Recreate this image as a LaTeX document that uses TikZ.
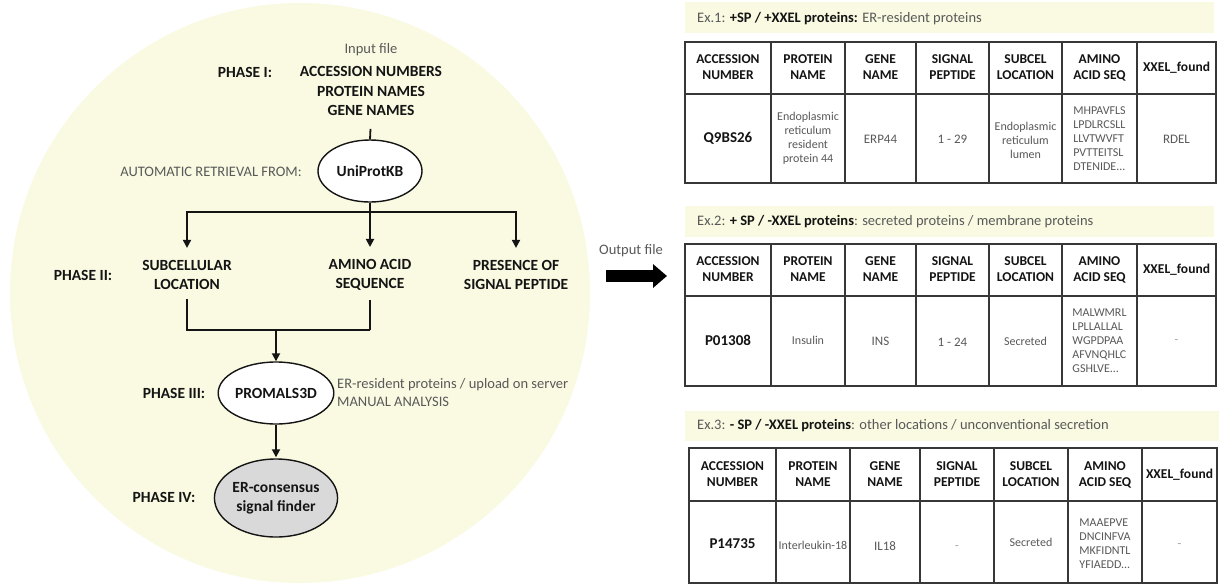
\documentclass[tikz,border=0pt]{standalone}
\usepackage{fontspec}
\setmainfont{Carlito}
\usetikzlibrary{arrows.meta,shapes.geometric}
\definecolor{bgy}{RGB}{250,250,226}
\definecolor{txtg}{RGB}{89,89,89}
\definecolor{ellg}{RGB}{217,217,217}
\definecolor{ink}{RGB}{20,20,20}
\newcommand\fs[2]{\fontsize{#1}{#2}\selectfont}
\newcommand\tgrid[6]{%
  \draw[tbl] (#1,#3) rectangle (#2,#5);
  \draw[tbl] (#1,#4) -- (#2,#4);
  \foreach \cx in {#6} {\draw[tbl] (\cx,#3) -- (\cx,#5);}
}
\newcommand\theads[9]{%
  \node[hd] (#1h1) at (#3,#2) {ACCESSION\\NUMBER};
  \node[hd] (#1h2) at (#4,#2) {PROTEIN\\NAME};
  \node[hd] (#1h3) at (#5,#2) {GENE\\NAME};
  \node[hd] (#1h4) at (#6,#2) {SIGNAL\\PEPTIDE};
  \node[hd] (#1h5) at (#7,#2) {SUBCEL\\LOCATION};
  \node[hd] (#1h6) at (#8,#2) {AMINO\\ACID SEQ};
  \node[hd] (#1h7) at (#9,#2) {XXEL\_found};
}
\begin{document}
\begin{tikzpicture}[x=1pt,y=-1pt,
  bold/.style={font=\bfseries\fs{15.5}{19.5}, text=ink, align=center, inner sep=2pt},
  grey/.style={font=\fs{14.5}{18}, text=txtg, inner sep=0pt},
  oval/.style={ellipse, draw=ink, line width=1.4pt, fill=white, inner sep=0pt,
    font=\bfseries\fs{15.5}{19}, text=ink, align=center},
  conn/.style={draw=ink, line width=1.8pt},
  arr/.style={conn, -{Triangle[length=8pt,width=8pt]}},
  tbl/.style={draw=ink!85, line width=1.6pt},
  hd/.style={font=\bfseries\fs{13.5}{16}, text=ink, align=center, inner sep=0pt},
  bd/.style={font=\fs{12}{14}, text=txtg, align=center, inner sep=0pt},
  bdm/.style={font=\fs{13}{15}, text=txtg, align=center, inner sep=0pt},
  bdl/.style={font=\fs{12}{14}, text=txtg, align=left, inner sep=0pt},
  acc/.style={font=\bfseries\fs{15}{18}, text=ink, inner sep=0pt},
  bantext/.style={font=\fs{14.5}{17}, text=txtg, anchor=west, inner sep=0pt},
]
\useasboundingbox (0,0) rectangle (1219,584);
\fill[white] (0,0) rectangle (1219,584);
% background disc
\fill[bgy] (300,293) circle[radius=290pt];

% ---- flow chart ----
\node[grey] (inp) at (371,50) {Input file};
\node[bold] (ph1) at (245,72) {PHASE I:};
\node[bold] (accn) at (371,91) {ACCESSION NUMBERS\\PROTEIN NAMES\\GENE NAMES};
\node[oval, minimum width=104pt, minimum height=62pt] (uni) at (370,171) {UniProtKB};
\node[grey] (auto) at (211,172) {AUTOMATIC RETRIEVAL FROM:};
\draw[conn, shorten <=11pt] (accn.south) -- (uni.north);

\node[bold] (ph2) at (83,275) {PHASE II:};
\node[bold] (subcel) at (187,275) {SUBCELLULAR\\LOCATION};
\node[bold] (aa) at (370,275) {AMINO ACID\\SEQUENCE};
\node[bold] (sp) at (516,275) {PRESENCE OF\\SIGNAL PEPTIDE};
\coordinate (br) at (370,212);
\draw[conn] (uni.south) -- (br);
\draw[arr, shorten >=10pt] (br) -| (subcel.north);
\draw[arr, shorten >=10pt] (br) -- (aa.north);
\draw[arr, shorten >=10pt] (br) -| (sp.north);

\node[oval, minimum width=104pt, minimum height=62pt] (prom) at (276,393) {PROMALS3D};
\node[bold] (ph3) at (174,393) {PHASE III:};
\node[grey, anchor=west, align=left] (man) at (337,393) {ER-resident proteins / upload on server\\MANUAL ANALYSIS};
\coordinate (join) at (276,330);
\draw[conn, shorten <=7pt] (subcel.south) -- (subcel.south |- join) -- (aa.south |- join);
\draw[conn, shorten <=7pt] (aa.south) -- (aa.south |- join);
\draw[arr] (join) -- (prom.north);

\node[oval, fill=ellg, minimum width=114pt, minimum height=78pt] (ercons) at (276,498) {ER-consensus\\signal finder};
\node[bold] (ph4) at (164,497) {PHASE IV:};
\draw[arr, shorten >=1pt] (prom.south) -- (ercons.north);

% ---- output arrow ----
\node[grey] (outf) at (631,251) {Output file};
\coordinate (outA) at (606,276);
\coordinate (outB) at (667,276);
\draw[draw=black, line width=12pt, -{Triangle[length=14pt,width=23pt]}] (outA) -- (outB);

% ---- banners ----
\fill[bgy] (685,2) rectangle (1214,33);
\node[bantext] (ban1) at (697,19) {Ex.1: \textcolor{ink}{\bfseries +SP / +XXEL proteins:} ER-resident proteins};
\fill[bgy] (685,206) rectangle (1214,237);
\node[bantext] (ban2) at (697,222) {Ex.2: \textcolor{ink}{\bfseries + SP / -XXEL proteins}: secreted proteins / membrane proteins};
\fill[bgy] (685,411) rectangle (1219,441);
\node[bantext] (ban3) at (697,426) {Ex.3: \textcolor{ink}{\bfseries - SP / -XXEL proteins}: other locations / unconventional secretion};

% ---- table 1 ----
\tgrid{685}{1216}{42}{94}{183}{771,845,916,989,1062,1137}
\theads{ta}{67.5}{728}{808}{880.5}{952.5}{1025.5}{1099.5}{1176.5}
\node[acc] (ta1) at (728,138) {Q9BS26};
\node[bd] (ta2) at (808,138) {Endoplasmic\\reticulum\\resident\\protein 44};
\node[bdm] (ta3) at (880.5,139) {ERP44};
\node[bdm] (ta4) at (952.5,139) {1 - 29};
\node[bd] (ta5) at (1025.5,140) {Endoplasmic\\reticulum\\lumen};
\node[bdl] (ta6) at (1099.5,139) {MHPAVFLS\\LPDLRCSLL\\LLVTWVFT\\PVTTEITSL\\DTENIDE...};
\node[bdm] (ta7) at (1176.5,139) {RDEL};

% ---- table 2 ----
\tgrid{685}{1216}{244}{296}{386}{771,845,916,989,1062,1137}
\theads{tb}{269.5}{728}{808}{880.5}{952.5}{1025.5}{1099.5}{1176.5}
\node[acc] (tb1) at (728,340) {P01308};
\node[bd] (tb2) at (808,340) {Insulin};
\node[bdm] (tb3) at (880.5,341) {INS};
\node[bdm] (tb4) at (952.5,342) {1 - 24};
\node[bd] (tb5) at (1025.5,341) {Secreted};
\node[bdl] (tb6) at (1099.5,341) {MALWMRL\\LPLLALLAL\\WGPDPAA\\AFVNQHLC\\GSHLVE...};
\node[bd, text=txtg!60] (tb7) at (1176.5,342) {-};

% ---- table 3 ----
\tgrid{689}{1217}{448}{501}{583}{776,850,920,994,1068,1142}
\theads{tc}{474.5}{732.5}{813}{885}{957}{1031}{1105}{1179.5}
\node[acc] (tc1) at (732.5,544) {P14735};
\node[bd] (tc2) at (813,545) {Interleukin-18};
\node[bdm] (tc3) at (885,546) {IL18};
\node[bd, text=txtg!60] (tc4) at (957,548) {-};
\node[bd] (tc5) at (1031,542) {Secreted};
\node[bdl] (tc6) at (1105,544) {MAAEPVE\\DNCINFVA\\MKFIDNTL\\YFIAEDD...};
\node[bd, text=txtg!60] (tc7) at (1179.5,546) {-};
\end{tikzpicture}
\end{document}
